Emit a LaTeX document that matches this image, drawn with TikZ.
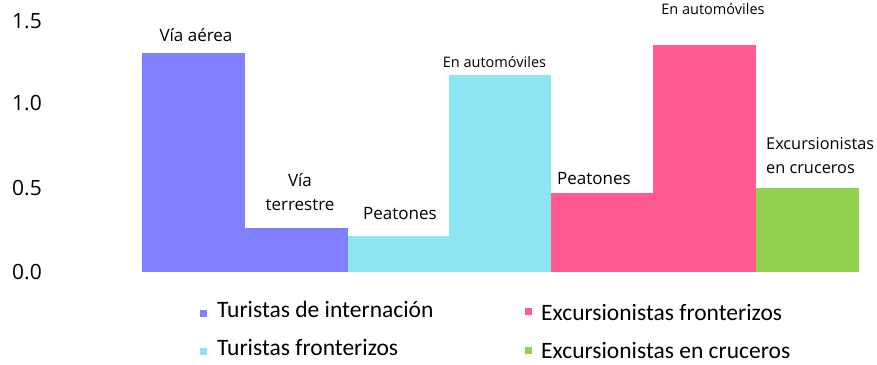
\documentclass[tikz,border=0pt]{standalone}
\usepackage{fontspec}
\setmainfont{Open Sans}
\newfontfamily\legfont{Carlito}
\definecolor{cBlue}{RGB}{128,128,255}
\definecolor{cCyan}{RGB}{142,229,242}
\definecolor{cPink}{RGB}{255,90,145}
\definecolor{cGreen}{RGB}{146,208,80}
\begin{document}
\begin{tikzpicture}[x=1pt,y=-1pt,
  ylab/.style={anchor=east, font=\fontsize{21}{21}\selectfont, inner sep=0pt},
  barlab/.style={font=\fontsize{17}{24}\selectfont, inner sep=0pt, align=center},
  smlab/.style={font=\fontsize{14.5}{17}\selectfont, inner sep=0pt},
  legtext/.style={anchor=base west, font=\legfont\fontsize{23.5}{23.5}\selectfont, inner sep=0pt},
  legsq/.style={minimum size=7pt, inner sep=0pt, anchor=north west}
]
\useasboundingbox (0,0) rectangle (877,364);
% bars
\fill[cBlue]  (142,53)  rectangle (245,272);
\fill[cBlue]  (245,228) rectangle (347.5,272);
\fill[cCyan]  (347.5,236) rectangle (449,272);
\fill[cCyan]  (449,75)  rectangle (551,272);
\fill[cPink]  (551,193) rectangle (653,272);
\fill[cPink]  (653,45)  rectangle (756,272);
\fill[cGreen] (756,188) rectangle (858.5,272);
% y axis labels
\node[ylab] (y15) at (42,21.5) {1.5};
\node[ylab] (y10) at (42,103.5) {1.0};
\node[ylab] (y05) at (42,188) {0.5};
\node[ylab] (y00) at (42,272) {0.0};
% bar labels
\node[barlab] (l1) at (196,35) {Vía aérea};
\node[barlab] (l2) at (300,192) {Vía\\terrestre};
\node[barlab] (l3) at (400,214) {Peatones};
\node[smlab]  (l4) at (494.5,62) {En automóviles};
\node[barlab] (l5) at (594,179) {Peatones};
\node[smlab]  (l6) at (713,9) {En automóviles};
\node[barlab, font=\fontsize{16.3}{24}\selectfont, align=left, anchor=west] (l7) at (766,156) {Excursionistas\\en cruceros};
% legend
\node[legsq, fill=cBlue]  (s1) at (200,309.5) {};
\node[legtext] (t1) at (217,317) {Turistas de internación};
\node[legsq, fill=cCyan]  (s2) at (200,347.5) {};
\node[legtext] (t2) at (217,355.5) {Turistas fronterizos};
\node[legsq, fill=cPink]  (s3) at (525,308) {};
\node[legtext] (t3) at (541,320) {Excursionistas fronterizos};
\node[legsq, fill=cGreen] (s4) at (525,347) {};
\node[legtext] (t4) at (541,358.5) {Excursionistas en cruceros};
\end{tikzpicture}
\end{document}
